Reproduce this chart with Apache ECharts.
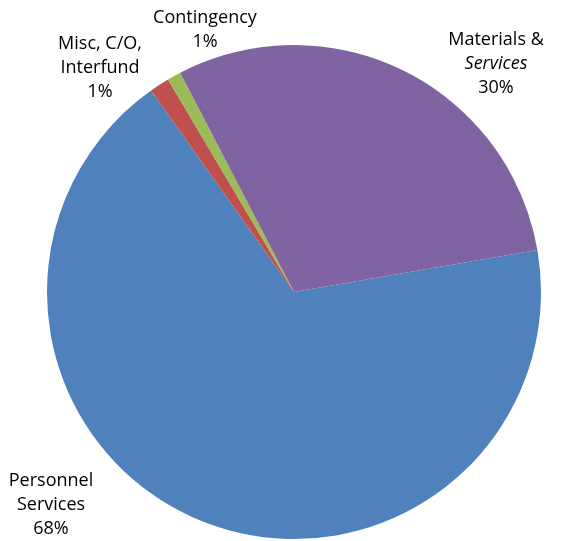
<!DOCTYPE html>
<html>
<head>
<meta charset="utf-8">
<script src="https://cdn.jsdelivr.net/npm/echarts@6/dist/echarts.min.js"></script>
<style>html,body{margin:0;padding:0;background:#fff;}#c{width:566px;height:541px;}</style>
</head>
<body>
<div id="c"></div>
<script>
var categories = ['Personnel Services', 'Misc, C/O, Interfund', 'Contingency', 'Materials & Services'];
var values = [67.9, 1.3, 0.9, 29.9];
var labelTexts = ['Personnel\nServices', 'Misc, C/O,\nInterfund', 'Contingency', 'Materials &\n{i|Services}'];
var colors = ['#4F81BD', '#C0504D', '#9BBB59', '#8064A2'];

var labelPos = [[51, 505], [100, 68], [205, 30], [496, 64]];

var chart = echarts.init(document.getElementById('c'), null, {renderer: 'canvas'});
chart.setOption({
  animation: false,
  series: [{
    type: 'pie',
    center: [294, 292],
    radius: [0, 247],
    startAngle: 9.8,
    clockwise: true,
    avoidLabelOverlap: false,
    data: categories.map(function (c, i) {
      return {name: c, value: values[i], itemStyle: {color: colors[i]}};
    }),
    label: {
      show: true,
      position: 'outside',
      fontFamily: 'Open Sans',
      fontSize: 18,
      lineHeight: 24,
      color: '#000',
      align: 'center',
      formatter: function (p) {
        return labelTexts[p.dataIndex] + '\n' + Math.round(p.percent) + '%';
      },
      rich: {
        i: {fontStyle: 'italic', fontFamily: 'Open Sans', fontSize: 18, lineHeight: 24, color: '#000'}
      }
    },
    labelLine: {show: false},
    labelLayout: function (params) {
      var p = labelPos[params.dataIndex];
      return {x: p[0], y: p[1], align: 'center', verticalAlign: 'middle'};
    },
    emphasis: {disabled: true}
  }]
});
</script>
</body>
</html>
